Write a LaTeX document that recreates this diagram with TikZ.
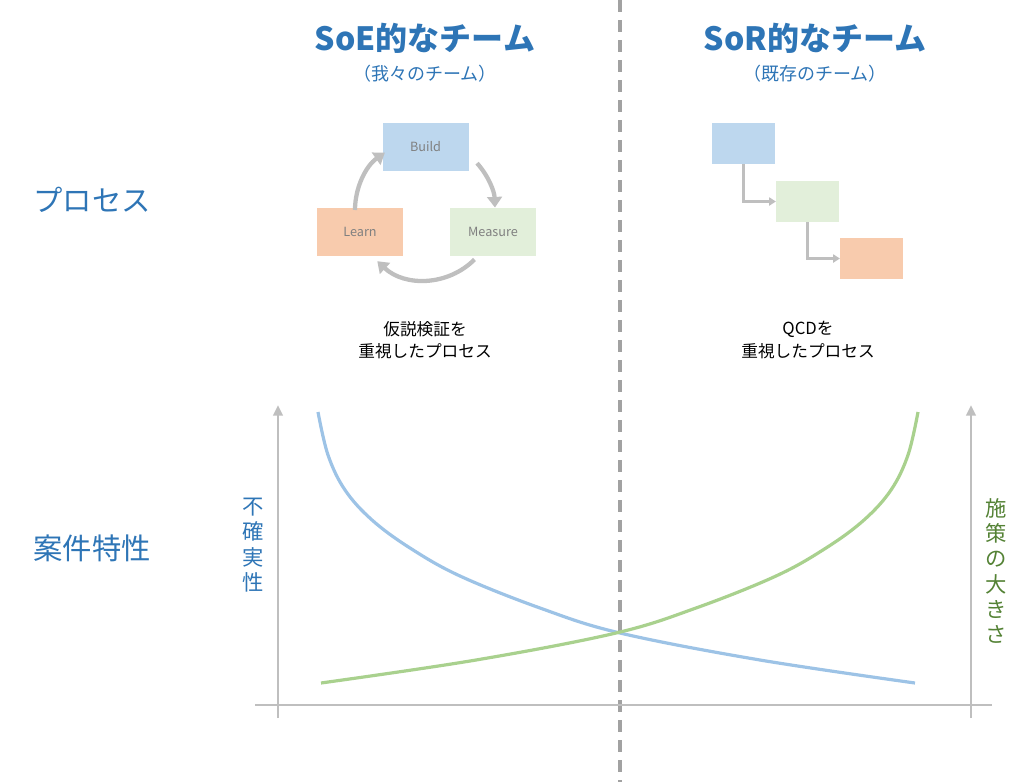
\documentclass[tikz,border=0pt]{standalone}
\usepackage{fontspec}
\setmainfont{Noto Sans CJK JP}
\newfontfamily\jpb{Noto Sans CJK JP}[BoldFont={* Bold}]
\usetikzlibrary{arrows.meta}
\definecolor{tblue}{HTML}{2E75B6}
\definecolor{bbox}{HTML}{BDD7EE}
\definecolor{gbox}{HTML}{E2EFDA}
\definecolor{obox}{HTML}{F8CBAD}
\definecolor{gr}{HTML}{BFBFBF}
\definecolor{cblue}{HTML}{9DC3E6}
\definecolor{cgreen}{HTML}{A9D18E}
\definecolor{dgreen}{HTML}{548235}
\begin{document}
\begin{tikzpicture}[x=0.75pt,y=-0.75pt,
  title/.style={font=\fontsize{24}{26}\selectfont\bfseries, text=tblue},
  sub/.style={font=\fontsize{13.5}{15}\selectfont, text=tblue},
  rowlab/.style={font=\fontsize{22}{24}\selectfont, text=tblue},
  boxA/.style={minimum width=64.5pt,minimum height=36pt,inner sep=0pt,font=\fontsize{9.5}{11}\selectfont,text=gray},
  boxB/.style={minimum width=47pt,minimum height=31pt,inner sep=0pt},
  cyc/.style={gr,line width=3.2pt,-{Triangle[length=8pt,width=11pt]}},
  conn/.style={gr,line width=2.2pt,-{Triangle[length=5pt,width=6pt]}},
  note/.style={font=\fontsize{12.5}{17}\selectfont,align=center},
  axis/.style={gr,line width=2pt},
  axisar/.style={gr,line width=2pt,-{Triangle[length=8pt,width=7pt]}}]
\useasboundingbox (0,0) rectangle (1024,782);
\draw[gr!85!black,line width=2.4pt,dash pattern=on 9pt off 6pt] (620,0) -- (620,782);
\node[title] (t1) at (425,38) {SoE的なチーム};
\node[sub] (s1) at (425,74) {（我々のチーム）};
\node[title] (t2) at (815,38) {SoR的なチーム};
\node[sub] (s2) at (815,74) {（既存のチーム）};
\node[rowlab] (r1) at (92,200) {プロセス};
\node[rowlab] (r2) at (92,548) {案件特性};
% cycle
\node[boxA,fill=bbox] (build) at (425.5,147) {Build};
\node[boxA,fill=gbox] (meas) at (493,232) {Measure};
\node[boxA,fill=obox] (learn) at (360,232) {Learn};
\coordinate (c) at (425,210);
\draw[cyc] (c) ++(-42:70) arc (-42:-2:70);
\draw[cyc] (c) ++(45:70) arc (45:133:70);
\draw[cyc] (c) ++(180:70) arc (180:235:70);
% waterfall
\node[boxB,fill=bbox] (w1) at (743.5,143.5) {};
\node[boxB,fill=gbox] (w2) at (807.5,201.5) {};
\node[boxB,fill=obox] (w3) at (871.5,258.5) {};
\draw[conn] (w1.south) |- (w2.west);
\draw[conn] (w2.south) |- (w3.west);
\node[note] (n1) at (425,340) {仮説検証を\\重視したプロセス};
\node[note] (n2) at (808,340) {QCDを\\重視したプロセス};
% axes
\coordinate (xa) at (255,705); \coordinate (xb) at (992,705);
\coordinate (la) at (278,718); \coordinate (lb) at (278,405);
\coordinate (ra) at (971,718); \coordinate (rb) at (971,405);
\draw[axis] (xa) -- (xb);
\draw[axisar] (la) -- (lb);
\draw[axisar] (ra) -- (rb);
\node[font=\fontsize{16}{19}\selectfont,text=tblue,align=center] (u) at (253,545) {不\\確\\実\\性};
\node[font=\fontsize{16}{19}\selectfont,text=dgreen,align=center] (p) at (996,571) {施\\策\\の\\大\\き\\さ};
\draw[cblue,line width=2.4pt] plot[smooth,tension=0.6] coordinates {(318,412) (328,455) (345,490) (372,520) (410,548) (460,576) (540,608) (620,633) (760,660) (915,683)};
\draw[cgreen,line width=2.4pt] plot[smooth,tension=0.6] coordinates {(321,683) (476,660) (616,633) (696,608) (776,576) (826,548) (864,520) (891,490) (908,455) (918,412)};
\end{tikzpicture}
\end{document}
